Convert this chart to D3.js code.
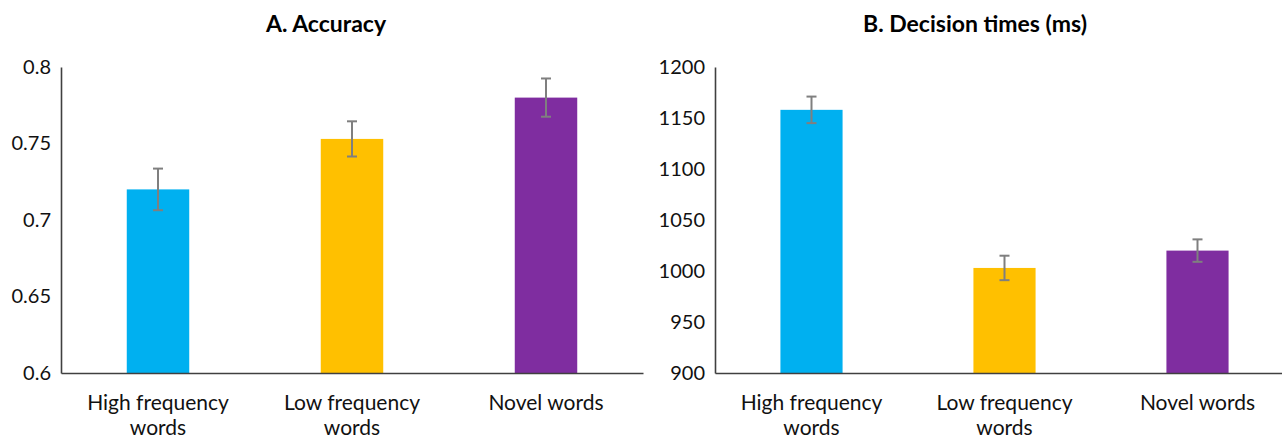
<!DOCTYPE html>
<html>
<head>
<meta charset="utf-8">
<script src="https://cdn.jsdelivr.net/npm/d3@7"></script>
<style>
  html, body { margin: 0; padding: 0; background: #fff; }
  svg { display: block; font-family: Lato, "Open Sans", sans-serif; }
</style>
</head>
<body>
<svg id="chart" width="1282" height="439"></svg>
<script>
// Word conditions and per-panel means with their error margins
const categories = ["High frequency words", "Low frequency words", "Novel words"];
const categoryLines = [["High frequency", "words"], ["Low frequency", "words"], ["Novel words"]];
const barColors = ["#00B0F0", "#FFC000", "#7F2DA0"];

const accuracyMeans = [0.720, 0.753, 0.780];
const accuracyErrors = [0.0136, 0.0115, 0.0125];
const accuracyTicks = [0.6, 0.65, 0.7, 0.75, 0.8];

const timeMeans = [1158, 1003, 1020];
const timeErrors = [13, 12, 11];
const timeTicks = [900, 950, 1000, 1050, 1100, 1150, 1200];

const svg = d3.select("#chart");

function panel(opts) {
  const { left, right, top, bottom, title, titleX, means, errors, ticks, domain, fmt } = opts;
  const g = svg.append("g");

  const x = d3.scaleBand().domain(categories).range([left, right]).paddingInner(0).paddingOuter(0);
  const y = d3.scaleLinear().domain(domain).range([bottom, top]);
  const barW = x.bandwidth() * 0.322;

  // title
  g.append("text")
    .attr("x", titleX).attr("y", 32)
    .attr("text-anchor", "middle")
    .attr("font-weight", "bold")
    .attr("font-size", 23)
    .attr("fill", "#000")
    .text(title);

  // bars
  g.selectAll("rect.bar").data(means).join("rect")
    .attr("class", "bar")
    .attr("x", (d, i) => x(categories[i]) + x.bandwidth() / 2 - barW / 2)
    .attr("width", barW)
    .attr("y", d => y(d))
    .attr("height", d => bottom - y(d))
    .attr("fill", (d, i) => barColors[i]);

  // error bars
  const eb = g.selectAll("g.err").data(means).join("g").attr("class", "err")
    .attr("stroke", "#7f7f7f").attr("stroke-width", 2).attr("fill", "none");
  eb.each(function (d, i) {
    const cx = x(categories[i]) + x.bandwidth() / 2;
    const hi = y(d + errors[i]), lo = y(d - errors[i]);
    const s = d3.select(this);
    s.append("line").attr("x1", cx).attr("x2", cx).attr("y1", hi).attr("y2", lo);
    s.append("line").attr("x1", cx - 5).attr("x2", cx + 5).attr("y1", hi).attr("y2", hi);
    s.append("line").attr("x1", cx - 5).attr("x2", cx + 5).attr("y1", lo).attr("y2", lo);
  });

  // y axis
  const yAxis = d3.axisLeft(y).tickValues(ticks).tickSize(0).tickPadding(10).tickFormat(fmt);
  const ya = g.append("g").attr("transform", `translate(${left},0)`).call(yAxis);
  ya.select(".domain").attr("stroke", "#404040").attr("stroke-width", 1.6);
  ya.selectAll("text").attr("font-size", 20).attr("fill", "#111")
    .attr("font-family", "Lato, 'Open Sans', sans-serif");

  // x axis
  const xAxis = d3.axisBottom(x).tickSize(0).tickFormat(() => "");
  const xa = g.append("g").attr("transform", `translate(0,${bottom})`).call(xAxis);
  xa.select(".domain").attr("stroke", "#404040").attr("stroke-width", 1.6);

  // category labels, wrapped onto two lines
  categories.forEach((c, i) => {
    const t = g.append("text")
      .attr("x", x(c) + x.bandwidth() / 2)
      .attr("y", 410)
      .attr("text-anchor", "middle")
      .attr("font-size", 21)
      .attr("fill", "#111");
    categoryLines[i].forEach((ln, k) => {
      t.append("tspan").attr("x", x(c) + x.bandwidth() / 2).attr("dy", k === 0 ? 0 : 25).text(ln);
    });
  });
}

panel({
  left: 61, right: 643, top: 67, bottom: 373,
  title: "A. Accuracy", titleX: 326,
  means: accuracyMeans, errors: accuracyErrors,
  ticks: accuracyTicks, domain: [0.6, 0.8],
  fmt: d => String(+d.toFixed(2))
});

panel({
  left: 715, right: 1294, top: 67, bottom: 373,
  title: "B. Decision times (ms)", titleX: 975,
  means: timeMeans, errors: timeErrors,
  ticks: timeTicks, domain: [900, 1200],
  fmt: d => String(d)
});
</script>
</body>
</html>
